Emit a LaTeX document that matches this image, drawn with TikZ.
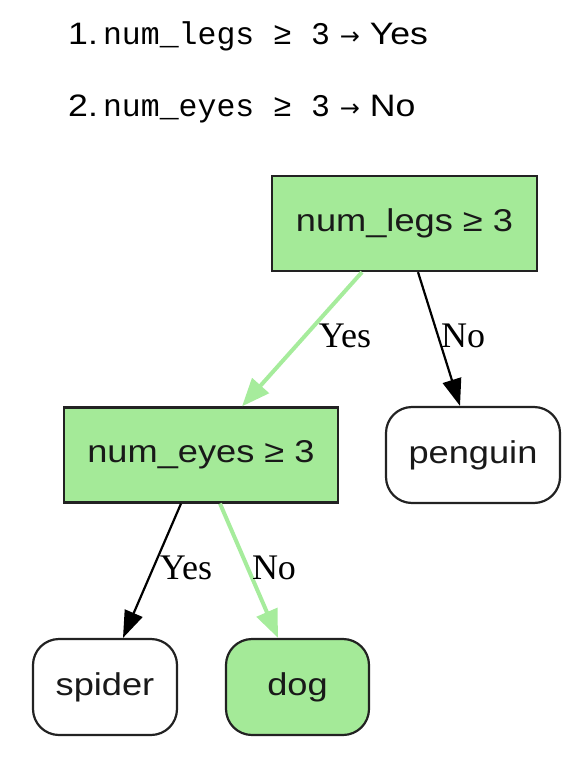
\documentclass[tikz,border=0pt]{standalone}
\usepackage{fontspec}
\setmainfont{Liberation Sans}
\newfontfamily\nodefont[FakeStretch=1.15]{Liberation Sans}
\newfontfamily\labfont{Liberation Serif}
\newfontfamily\codefont{Liberation Mono}
\newfontfamily\arrfont{DejaVu Sans}
\usetikzlibrary{arrows.meta}
\definecolor{leafgreen}{HTML}{A4EA98}
\definecolor{edgegreen}{HTML}{A6EC9C}
\definecolor{bord}{HTML}{222222}
\begin{document}
\begin{tikzpicture}[x=1pt,y=-1pt,
  base/.style={draw=bord,line width=2.2pt,inner sep=0pt,font=\nodefont\fontsize{31.5}{34}\selectfont,text=black!90},
  testbox/.style={base,fill=leafgreen,minimum height=95pt},
  leafbox/.style={base,rounded corners=26pt,minimum height=96pt},
  yesedge/.style={draw=edgegreen,line width=4pt,-{Triangle[length=28pt,width=22pt]}},
  noedge/.style={draw=black,line width=2.2pt,-{Triangle[length=27pt,width=19pt]}},
  lab/.style={font=\labfont\fontsize{36}{38}\selectfont,inner sep=0pt},
  toptext/.style={anchor=base west,inner sep=0pt,font=\nodefont\fontsize{31}{34}\selectfont}]
\useasboundingbox (0,0) rectangle (586,770);
% top list
\node[toptext] (l1) at (68,45) {1.\,{\codefont\fontsize{31.5}{34}\selectfont num\_legs ≥ 3} {\arrfont\fontsize{24}{34}\selectfont →} Yes};
\node[toptext] (l2) at (68,117) {2.\,{\codefont\fontsize{31.5}{34}\selectfont num\_eyes ≥ 3} {\arrfont\fontsize{24}{34}\selectfont →} No};
% nodes
\node[testbox,minimum width=265pt] (n1) at (404.5,223.5) {num\_legs ≥ 3};
\node[testbox,minimum width=274pt] (n2) at (201,455) {num\_eyes ≥ 3};
\node[leafbox,minimum width=174pt] (peng) at (473,455) {penguin};
\node[leafbox,minimum width=144pt] (spid) at (105,687) {spider};
\node[leafbox,fill=leafgreen,minimum width=143pt] (dog) at (297.5,687) {dog};
% edges
\draw[yesedge] ([xshift=-42.5pt]n1.south) -- ([xshift=41pt]n2.north);
\draw[noedge] ([xshift=13.5pt]n1.south) -- ([xshift=-13pt]peng.north);
\draw[noedge] ([xshift=-20pt]n2.south) -- ([xshift=18pt]spid.north);
\draw[yesedge] ([xshift=19pt]n2.south) -- ([xshift=-19.5pt]dog.north);
% labels
\node[lab] (ly1) at (345,336) {Yes};
\node[lab] (ln1) at (463,336) {No};
\node[lab] (ly2) at (186,568) {Yes};
\node[lab] (ln2) at (274,568) {No};
\end{tikzpicture}
\end{document}
